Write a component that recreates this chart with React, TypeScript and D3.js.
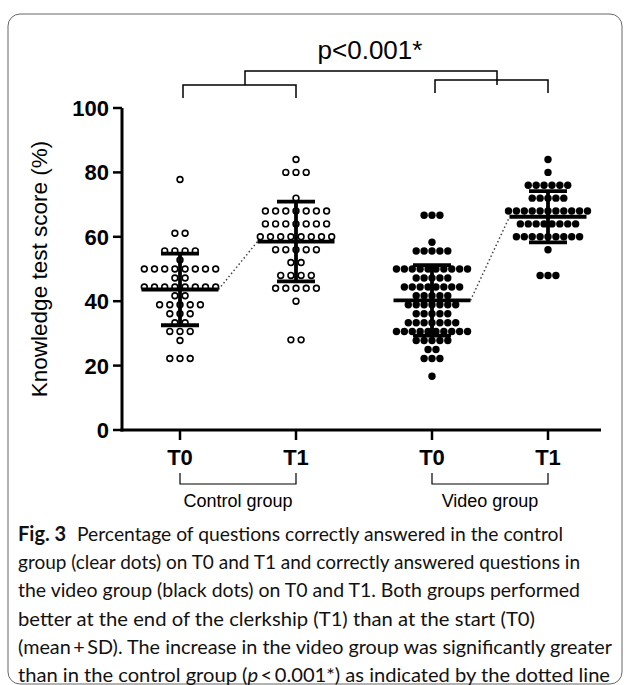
import * as d3 from "d3";

// scores (%), one entry per student
const controlT0 = [
  77.8, 61.1, 61.1, 55.6, 55.6, 55.6, 55.6, 52.8,
  50, 50, 50, 50, 50, 50, 50, 50, 47.2, 47.2,
  44.4, 44.4, 44.4, 44.4, 44.4, 44.4, 44.4, 44.4, 41.7, 41.7,
  38.9, 38.9, 38.9, 38.9, 38.9, 36.1, 36.1, 36.1, 33.3, 33.3,
  30.6, 30.6, 30.6, 27.8, 22.2, 22.2, 22.2,
];
const controlT1 = [
  84, 80, 80, 80, 72, 68, 68, 68, 68, 68, 68, 68,
  64, 64, 64, 64, 64, 64, 64, 60, 60, 60, 60, 60, 60, 60, 60,
  56, 56, 56, 56, 56, 52, 52, 48, 48, 48, 48, 44, 44, 44, 44, 44, 40, 28, 28,
];
const videoT0 = [
  66.7, 66.7, 66.7, 58.3, 55.6, 55.6, 55.6, 55.6, 55.6,
  50, 50, 50, 50, 50, 50, 50, 50, 50, 50, 47.2, 47.2, 47.2, 47.2, 47.2,
  44.4, 44.4, 44.4, 44.4, 44.4, 44.4, 44.4, 44.4, 41.7, 41.7, 41.7, 41.7, 41.7,
  38.9, 38.9, 38.9, 38.9, 38.9, 38.9, 38.9, 36.1, 36.1, 36.1, 36.1, 36.1,
  33.3, 33.3, 33.3, 33.3, 33.3, 33.3, 33.3,
  30.6, 30.6, 30.6, 30.6, 30.6, 30.6, 30.6, 30.6, 30.6, 30.6,
  27.8, 27.8, 27.8, 27.8, 27.8, 25, 25, 22.2, 22.2, 22.2, 16.7,
];
const videoT1 = [
  84, 80, 76, 76, 76, 76, 76, 76, 72, 72, 72, 72, 72,
  68, 68, 68, 68, 68, 68, 68, 68, 68, 68, 68,
  64, 64, 64, 64, 64, 64, 64, 64, 60, 60, 60, 60, 60, 60, 60, 60, 60,
  56, 48, 48, 48,
];

const groups = ["Control group", "Video group"];
const times = ["T0", "T1"];
const yTicks = [0, 20, 40, 60, 80, 100];
const pLabel = "p<0.001*";

const captionLines = [
  "Percentage of questions correctly answered in the control",
  "group (clear dots) on T0 and T1 and correctly answered questions in",
  "the video group (black dots) on T0 and T1. Both groups performed",
  "better at the end of the clerkship (T1) than at the start (T0)",
  "(mean\u2009+\u2009SD). The increase in the video group was significantly greater",
];
const captionWidths = [486, 562, 562, 517, 594, 592];

const W = 630;
const H = 685;
const axisFont = "'Liberation Sans', Arial, Helvetica, sans-serif";
const capFont = "Lato, 'Open Sans', sans-serif";

const y = d3.scaleLinear().domain([0, 100]).range([430, 108]);
const xGroup = d3.scalePoint().domain(groups).range([238, 490]);
const xTime = d3.scalePoint().domain(times).range([-58, 58]);

const columns = [
  { group: groups[0], time: times[0], values: controlT0, filled: false },
  { group: groups[0], time: times[1], values: controlT1, filled: false },
  { group: groups[1], time: times[0], values: videoT0, filled: true },
  { group: groups[1], time: times[1], values: videoT1, filled: true },
];

// lay dots of equal value out side by side, centred on the column
function swarm(values: number[], cx: number, step: number) {
  const rows = d3.groups(values, (v) => v);
  const pts: { x: number; y: number }[] = [];
  rows.forEach(([v, arr]) => {
    arr.forEach((_, i) => {
      pts.push({ x: cx + (i - (arr.length - 1) / 2) * step, y: y(v) });
    });
  });
  return pts;
}

export default function App() {
  const cols = columns.map((c) => {
    const cx = (xGroup(c.group) as number) + (xTime(c.time) as number);
    const mean = d3.mean(c.values) as number;
    const sd = d3.deviation(c.values) as number;
    const pts = swarm(c.values, cx, c.filled ? 7.9 : 10.2);
    return { ...c, cx, mean, sd, pts };
  });
  const meanHalf = 38.5;
  const capHalf = 19;

  return (
    <svg width={W} height={H} style={{ position: "absolute", left: 0, top: 0, background: "#fff" }}>
      <rect x={8} y={14} width={614} height={670} rx={12} fill="none" stroke="#666" strokeWidth={1} />

      {/* significance brackets */}
      <text x={370} y={59} textAnchor="middle" fontFamily={axisFont} fontSize={26}>
        {pLabel}
      </text>
      <path d="M245,85V71H497V85" fill="none" stroke="#000" strokeWidth={1.5} />
      {groups.map((g, i) => {
        const x0 = (xGroup(g) as number) + (xTime("T0") as number);
        const x1 = (xGroup(g) as number) + (xTime("T1") as number);
        const top = i === 0 ? 85 : 80;
        return (
          <path key={g} d={`M${x0 + 3},${top + 13}V${top}H${x1}V${top + 13}`} fill="none" stroke="#000" strokeWidth={1.5} />
        );
      })}

      {/* y axis */}
      <line x1={122} x2={122} y1={y(100)} y2={y(0) + 1.5} stroke="#000" strokeWidth={3} />
      {yTicks.map((t) => (
        <g key={t}>
          <line x1={113} x2={122} y1={y(t)} y2={y(t)} stroke="#000" strokeWidth={2.5} />
          <text x={109} y={y(t) + 8} textAnchor="end" fontFamily={axisFont} fontWeight="bold" fontSize={22}>
            {t}
          </text>
        </g>
      ))}
      <text
        transform={`translate(47,${y(50)}) rotate(-90)`}
        textAnchor="middle"
        fontFamily={axisFont}
        fontSize={22.5}
      >
        Knowledge test score (%)
      </text>

      {/* x axis */}
      <line x1={120.5} x2={601} y1={y(0)} y2={y(0)} stroke="#000" strokeWidth={3} />
      {cols.map((c) => (
        <g key={c.group + c.time}>
          <line x1={c.cx} x2={c.cx} y1={y(0)} y2={y(0) + 10} stroke="#000" strokeWidth={2.5} />
          <text x={c.cx} y={465} textAnchor="middle" fontFamily={axisFont} fontWeight="bold" fontSize={22}>
            {c.time}
          </text>
        </g>
      ))}
      {groups.map((g) => {
        const x0 = (xGroup(g) as number) + (xTime("T0") as number);
        const x1 = (xGroup(g) as number) + (xTime("T1") as number);
        return (
          <g key={g}>
            <path d={`M${x0},473V484H${x1}V473`} fill="none" stroke="#000" strokeWidth={1.2} />
            <text x={xGroup(g)} y={507} textAnchor="middle" fontFamily={axisFont} fontSize={18}>
              {g}
            </text>
          </g>
        );
      })}

      {/* dots */}
      {cols.map((c) =>
        c.pts.map((p, i) => (
          <circle
            key={c.group + c.time + i}
            cx={p.x}
            cy={p.y}
            r={c.filled ? 3.7 : 2.9}
            fill={c.filled ? "#000" : "#fff"}
            stroke="#000"
            strokeWidth={c.filled ? 0 : 1.6}
          />
        ))
      )}

      {/* dotted lines joining the means */}
      {groups.map((g) => {
        const a = cols.find((c) => c.group === g && c.time === "T0")!;
        const b = cols.find((c) => c.group === g && c.time === "T1")!;
        return (
          <line
            key={g}
            x1={a.cx + meanHalf}
            y1={y(a.mean)}
            x2={b.cx - meanHalf}
            y2={y(b.mean)}
            stroke="#444"
            strokeWidth={1.5}
            strokeDasharray="1.5,2.5"
          />
        );
      })}

      {/* mean and SD bars */}
      {cols.map((c) => (
        <g key={"bar" + c.group + c.time} stroke="#000" strokeWidth={3.8}>
          <line x1={c.cx - meanHalf} x2={c.cx + meanHalf} y1={y(c.mean)} y2={y(c.mean)} />
          <line x1={c.cx} x2={c.cx} y1={y(c.mean + c.sd)} y2={y(c.mean - c.sd)} />
          <line x1={c.cx - capHalf} x2={c.cx + capHalf} y1={y(c.mean + c.sd)} y2={y(c.mean + c.sd)} />
          <line x1={c.cx - capHalf} x2={c.cx + capHalf} y1={y(c.mean - c.sd)} y2={y(c.mean - c.sd)} />
        </g>
      ))}

      {/* caption */}
      <text x={18} y={541} fontFamily={capFont} fontSize={20} fontWeight="bold" fill="#111">
        Fig. 3
      </text>
      <text
        x={77}
        y={541}
        fontFamily={capFont}
        fontSize={19}
        fill="#111"
        textLength={captionWidths[0]}
        lengthAdjust="spacingAndGlyphs"
      >
        {captionLines[0]}
      </text>
      {captionLines.slice(1).map((line, i) => (
        <text
          key={i}
          x={18}
          y={541 + (i + 1) * 28.2}
          fontFamily={capFont}
          fontSize={19}
          fill="#111"
          textLength={captionWidths[i + 1]}
          lengthAdjust="spacingAndGlyphs"
        >
          {line}
        </text>
      ))}
      <text
        x={18}
        y={541 + 5 * 28.2}
        fontFamily={capFont}
        fontSize={19}
        fill="#111"
        textLength={captionWidths[5]}
        lengthAdjust="spacingAndGlyphs"
      >
        than in the control group (<tspan fontStyle="italic">p</tspan>
        {"\u2009<\u20090.001*) as indicated by the dotted line"}
      </text>
    </svg>
  );
}
